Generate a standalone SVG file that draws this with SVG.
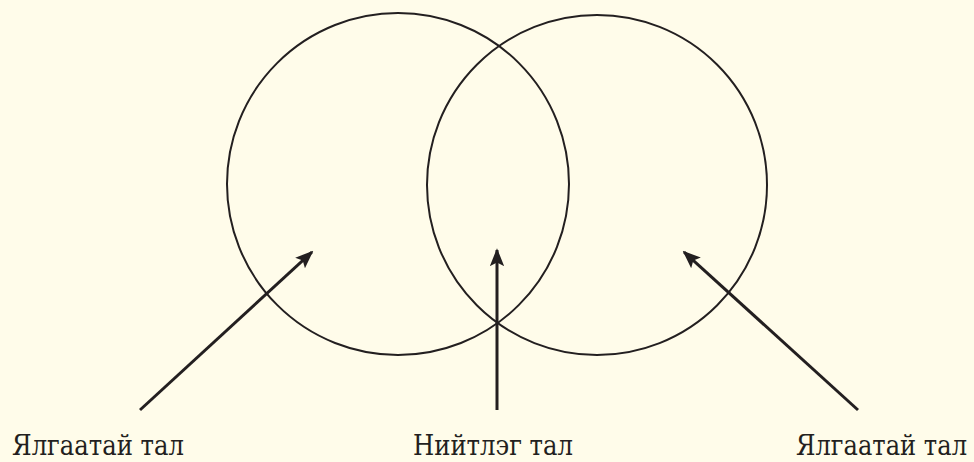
<svg xmlns="http://www.w3.org/2000/svg" width="974" height="462" viewBox="0 0 974 462">
<defs>
<style>
.c{fill:none;stroke:#231f20;stroke-width:2}
.a{stroke:#231f20;stroke-width:3}
text{font-family:'DejaVu Serif','Liberation Serif',serif;font-size:27px;fill:#231f20}
</style>
<marker id="ah" viewBox="0 0 10 8" refX="9" refY="4" markerWidth="6" markerHeight="4.8" markerUnits="strokeWidth" orient="auto">
<path d="M0,0 L10,4 L0,8 L2,4 Z" fill="#231f20"/>
</marker>
</defs>
<rect width="974" height="462" fill="#fffcea"/>
<g id="left-circle"><circle class="c" cx="398" cy="184" r="171"/></g>
<g id="right-circle"><circle class="c" cx="597" cy="185" r="170"/></g>
<g id="connectors">
<line class="a" x1="140" y1="410" x2="312" y2="252" marker-end="url(#ah)"/>
<line class="a" x1="497" y1="410" x2="497" y2="250" marker-end="url(#ah)"/>
<line class="a" x1="858" y1="410" x2="684" y2="252" marker-end="url(#ah)"/>
</g>
<g id="label-left"><text x="12" y="455" textLength="172" lengthAdjust="spacingAndGlyphs">Ялгаатай тал</text></g>
<g id="label-mid"><text x="413" y="455" textLength="160" lengthAdjust="spacingAndGlyphs">Нийтлэг тал</text></g>
<g id="label-right"><text x="967" y="455" text-anchor="end" textLength="171" lengthAdjust="spacingAndGlyphs">Ялгаатай тал</text></g>
</svg>
